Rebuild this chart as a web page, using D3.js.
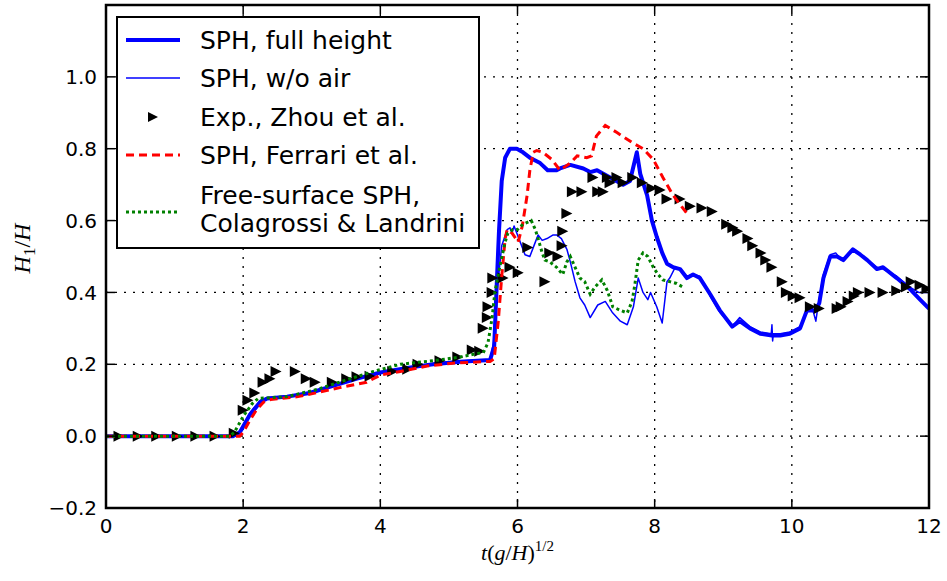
<!DOCTYPE html>
<html>
<head>
<meta charset="utf-8">
<script src="https://cdn.jsdelivr.net/npm/d3@7"></script>
<style>
html,body{margin:0;padding:0;background:#fff;}
svg{display:block;}
</style>
</head>
<body>
<svg id="chart" width="947" height="581"></svg>
<script>
// ---------------- data ----------------
const xTicks = [0, 2, 4, 6, 8, 10, 12];
const yTicks = [-0.2, 0.0, 0.2, 0.4, 0.6, 0.8, 1.0];

const sphFullHeight = [[0,0],[1.85,0],[1.95,0.01],[2.1,0.06],[2.25,0.095],[2.35,0.105],[2.64,0.11],[2.97,0.12],[3.31,0.14],[3.66,0.16],[4.0,0.177],[4.39,0.19],[4.77,0.2],[5.16,0.207],[5.6,0.212],[5.66,0.25],[5.7,0.435],[5.73,0.57],[5.77,0.71],[5.82,0.775],[5.89,0.8],[5.99,0.8],[6.08,0.79],[6.18,0.775],[6.33,0.76],[6.44,0.74],[6.57,0.74],[6.62,0.745],[6.77,0.755],[6.96,0.745],[7.06,0.735],[7.16,0.74],[7.35,0.72],[7.54,0.7],[7.64,0.71],[7.74,0.79],[7.79,0.73],[7.89,0.67],[7.96,0.6],[8.03,0.555],[8.11,0.51],[8.18,0.48],[8.27,0.47],[8.37,0.465],[8.47,0.44],[8.56,0.45],[8.66,0.44],[8.81,0.395],[8.95,0.35],[9.13,0.305],[9.24,0.32],[9.39,0.3],[9.54,0.285],[9.71,0.28],[9.83,0.28],[9.97,0.285],[10.12,0.3],[10.22,0.35],[10.34,0.35],[10.4,0.37],[10.46,0.44],[10.56,0.5],[10.66,0.5],[10.75,0.49],[10.89,0.52],[11.0,0.505],[11.1,0.49],[11.24,0.465],[11.33,0.47],[11.53,0.44],[11.72,0.41],[11.87,0.38],[12.0,0.355]];

const sphNoAir = [[0,0],[1.85,0],[1.95,0.015],[2.1,0.065],[2.25,0.1],[2.35,0.107],[2.64,0.112],[2.97,0.122],[3.31,0.142],[3.66,0.162],[4.0,0.178],[4.39,0.19],[4.77,0.202],[5.16,0.209],[5.6,0.213],[5.65,0.26],[5.7,0.4],[5.77,0.53],[5.85,0.575],[5.89,0.58],[5.92,0.565],[5.95,0.585],[6.04,0.54],[6.11,0.505],[6.18,0.5],[6.26,0.54],[6.3,0.56],[6.36,0.545],[6.43,0.55],[6.52,0.56],[6.57,0.56],[6.64,0.55],[6.72,0.52],[6.77,0.485],[6.84,0.43],[6.91,0.385],[6.98,0.365],[7.06,0.33],[7.17,0.365],[7.28,0.375],[7.38,0.345],[7.5,0.32],[7.6,0.31],[7.69,0.36],[7.76,0.44],[7.83,0.4],[7.9,0.38],[7.94,0.4],[8.03,0.36],[8.11,0.315],[8.18,0.43],[8.22,0.44],[8.3,0.47],[8.37,0.462],[8.47,0.445],[8.56,0.45],[8.66,0.445],[8.81,0.39],[8.95,0.345],[9.13,0.305],[9.24,0.33],[9.39,0.305],[9.54,0.29],[9.7,0.285],[9.71,0.31],[9.72,0.265],[9.73,0.285],[9.83,0.285],[9.97,0.29],[10.12,0.305],[10.22,0.345],[10.3,0.355],[10.35,0.32],[10.38,0.36],[10.46,0.45],[10.56,0.505],[10.64,0.51],[10.72,0.49],[10.89,0.515],[11.0,0.505],[11.1,0.49],[11.24,0.47],[11.33,0.465],[11.53,0.445],[11.72,0.415],[11.85,0.4],[12.0,0.4]];

const expZhou = [[0.19,0],[0.47,0],[0.74,0],[1.04,0],[1.31,0],[1.59,0],[1.87,0.008],[2.0,0.072],[2.07,0.1],[2.17,0.12],[2.29,0.15],[2.39,0.16],[2.48,0.18],[2.76,0.18],[2.92,0.16],[3.05,0.15],[3.3,0.15],[3.51,0.16],[3.66,0.165],[3.85,0.167],[4.18,0.18],[4.4,0.186],[4.55,0.2],[4.87,0.21],[5.13,0.22],[5.34,0.24],[5.45,0.236],[5.5,0.3],[5.56,0.33],[5.57,0.36],[5.63,0.4],[5.64,0.44],[5.79,0.44],[5.89,0.47],[6.01,0.455],[6.15,0.525],[6.4,0.43],[6.47,0.51],[6.59,0.5],[6.65,0.53],[6.66,0.57],[6.72,0.62],[6.8,0.68],[6.94,0.68],[7.1,0.72],[7.17,0.68],[7.25,0.68],[7.31,0.72],[7.35,0.705],[7.45,0.72],[7.54,0.705],[7.68,0.72],[7.82,0.705],[7.96,0.69],[8.08,0.685],[8.18,0.66],[8.37,0.66],[8.52,0.64],[8.69,0.635],[8.84,0.625],[9.05,0.59],[9.14,0.58],[9.21,0.57],[9.36,0.55],[9.43,0.53],[9.55,0.51],[9.62,0.49],[9.71,0.47],[9.86,0.43],[9.92,0.4],[10.02,0.39],[10.12,0.385],[10.27,0.36],[10.4,0.355],[10.66,0.355],[10.72,0.36],[10.82,0.375],[10.91,0.39],[10.97,0.4],[11.14,0.4],[11.33,0.4],[11.53,0.405],[11.67,0.415],[11.74,0.43],[11.87,0.42],[11.97,0.41]];

const sphFerrari = [[0,0],[1.95,0],[2.0,0.01],[2.1,0.045],[2.2,0.075],[2.3,0.095],[2.4,0.102],[2.8,0.11],[3.1,0.122],[3.41,0.135],[3.8,0.15],[4.0,0.17],[4.29,0.18],[4.68,0.195],[5.06,0.203],[5.6,0.208],[5.66,0.215],[5.72,0.32],[5.77,0.445],[5.82,0.55],[5.85,0.575],[5.92,0.565],[6.01,0.54],[6.07,0.585],[6.14,0.67],[6.18,0.74],[6.23,0.79],[6.28,0.795],[6.37,0.79],[6.5,0.77],[6.62,0.74],[6.77,0.76],[6.87,0.78],[7.01,0.775],[7.08,0.78],[7.15,0.835],[7.28,0.865],[7.45,0.845],[7.69,0.815],[7.83,0.8],[7.98,0.77],[8.12,0.72],[8.27,0.67],[8.37,0.645],[8.47,0.62]];

const colagrossiLandrini = [[0,0],[1.8,0],[1.87,0.01],[2.0,0.055],[2.13,0.09],[2.22,0.105],[2.64,0.11],[3.08,0.13],[3.56,0.16],[3.9,0.18],[4.29,0.2],[4.77,0.21],[5.16,0.22],[5.41,0.23],[5.5,0.232],[5.57,0.26],[5.63,0.33],[5.67,0.4],[5.74,0.47],[5.82,0.54],[5.86,0.565],[5.93,0.575],[6.0,0.575],[6.08,0.59],[6.2,0.6],[6.26,0.575],[6.3,0.55],[6.36,0.51],[6.4,0.49],[6.47,0.485],[6.57,0.47],[6.66,0.45],[6.72,0.485],[6.77,0.5],[6.84,0.47],[6.91,0.44],[6.98,0.43],[7.06,0.395],[7.13,0.415],[7.23,0.435],[7.31,0.405],[7.39,0.36],[7.5,0.35],[7.6,0.343],[7.67,0.375],[7.71,0.42],[7.76,0.49],[7.83,0.51],[7.9,0.5],[7.98,0.47],[8.05,0.45],[8.12,0.435],[8.22,0.43],[8.32,0.425],[8.41,0.415]];

const legendLabels = ["SPH, full height", "SPH, w/o air", "Exp., Zhou et al.", "SPH, Ferrari et al.", ["Free-surface SPH,", "Colagrossi & Landrini"]];

// ---------------- layout ----------------
const plot = {left: 106, right: 929, top: 5, bottom: 508};
const svg = d3.select("#chart");

const x = d3.scaleLinear().domain([0, 12]).range([plot.left, plot.right]);
const y = d3.scaleLinear().domain([-0.2, 1.2]).range([plot.bottom, plot.top]);

svg.append("defs").append("clipPath").attr("id", "clip")
  .append("rect").attr("x", plot.left).attr("y", plot.top)
  .attr("width", plot.right - plot.left).attr("height", plot.bottom - plot.top);

// grid
const grid = svg.append("g");
grid.selectAll("line.gx").data(xTicks.slice(1, -1)).join("line")
  .attr("x1", d => x(d)).attr("x2", d => x(d))
  .attr("y1", plot.top).attr("y2", plot.bottom)
  .attr("stroke", "#000").attr("stroke-width", 1.3).attr("stroke-dasharray", "2,7");
grid.selectAll("line.gy").data(yTicks.slice(1)).join("line")
  .attr("y1", d => y(d)).attr("y2", d => y(d))
  .attr("x1", plot.left).attr("x2", plot.right)
  .attr("stroke", "#000").attr("stroke-width", 1.3).attr("stroke-dasharray", "2,7");

// series
const line = d3.line().x(d => x(d[0])).y(d => y(d[1]));
const series = svg.append("g").attr("clip-path", "url(#clip)");

series.append("path").datum(sphFullHeight).attr("d", line)
  .attr("fill", "none").attr("stroke", "#0000ff").attr("stroke-width", 4).attr("stroke-linejoin", "round");
series.append("path").datum(sphNoAir).attr("d", line)
  .attr("fill", "none").attr("stroke", "#0000ff").attr("stroke-width", 1.5).attr("stroke-linejoin", "round");

const tri = (cx, cy, s) => `M${cx + s},${cy} L${cx - s},${cy - s} L${cx - s},${cy + s} Z`;
series.selectAll("path.exp").data(expZhou).join("path")
  .attr("d", d => tri(x(d[0]), y(d[1]), 5.5)).attr("fill", "#000");

series.append("path").datum(sphFerrari).attr("d", line)
  .attr("fill", "none").attr("stroke", "#ff0000").attr("stroke-width", 3).attr("stroke-dasharray", "8,5");
series.append("path").datum(colagrossiLandrini).attr("d", line)
  .attr("fill", "none").attr("stroke", "#008000").attr("stroke-width", 3).attr("stroke-dasharray", "3,3");

// frame
svg.append("rect").attr("x", plot.left).attr("y", plot.top)
  .attr("width", plot.right - plot.left).attr("height", plot.bottom - plot.top)
  .attr("fill", "none").attr("stroke", "#000").attr("stroke-width", 2.5);

// ticks (inward, all four sides)
const tickLen = 9;
const ticks = svg.append("g").attr("stroke", "#000").attr("stroke-width", 1.5);
xTicks.forEach(t => {
  ticks.append("line").attr("x1", x(t)).attr("x2", x(t)).attr("y1", plot.bottom).attr("y2", plot.bottom - tickLen);
  ticks.append("line").attr("x1", x(t)).attr("x2", x(t)).attr("y1", plot.top).attr("y2", plot.top + tickLen);
});
yTicks.forEach(t => {
  ticks.append("line").attr("y1", y(t)).attr("y2", y(t)).attr("x1", plot.left).attr("x2", plot.left + tickLen);
  ticks.append("line").attr("y1", y(t)).attr("y2", y(t)).attr("x1", plot.right).attr("x2", plot.right - tickLen);
});

// tick labels
const fmtY = d => (d < 0 ? "\u2212" : "") + Math.abs(d).toFixed(1);
svg.append("g").selectAll("text").data(xTicks).join("text")
  .attr("x", d => x(d)).attr("y", plot.bottom + 25)
  .attr("text-anchor", "middle").attr("font-family", "DejaVu Sans").attr("font-size", 20)
  .text(d => d);
svg.append("g").selectAll("text").data(yTicks).join("text")
  .attr("x", plot.left - 9).attr("y", d => y(d)).attr("dy", "0.36em")
  .attr("text-anchor", "end").attr("font-family", "DejaVu Sans").attr("font-size", 20)
  .text(fmtY);

// axis labels
const xl = svg.append("text").attr("x", (plot.left + plot.right) / 2).attr("y", 560)
  .attr("text-anchor", "middle").attr("font-family", "Liberation Serif, DejaVu Serif").attr("font-size", 22);
xl.append("tspan").attr("font-style", "italic").text("t");
xl.append("tspan").text("(");
xl.append("tspan").attr("font-style", "italic").text("g");
xl.append("tspan").text("/");
xl.append("tspan").attr("font-style", "italic").text("H");
xl.append("tspan").text(")");
xl.append("tspan").attr("font-size", 15).attr("dy", -9).text("1/2");

const yl = svg.append("text").attr("transform", `translate(30,${(plot.top + plot.bottom) / 2 - 8}) rotate(-90)`)
  .attr("text-anchor", "middle").attr("font-family", "Liberation Serif, DejaVu Serif").attr("font-size", 24);
yl.append("tspan").attr("font-style", "italic").text("H");
yl.append("tspan").attr("font-size", 17).attr("dy", 5).text("1");
yl.append("tspan").attr("dy", -5).text("/");
yl.append("tspan").attr("font-style", "italic").text("H");

// legend
const lg = svg.append("g");
lg.append("rect").attr("x", 117).attr("y", 17).attr("width", 362).attr("height", 231)
  .attr("fill", "#fff").attr("stroke", "#000").attr("stroke-width", 2);
const rowY = [40, 78, 117, 155, 209];
const sx1 = 126, sx2 = 180, tx = 200;
lg.append("line").attr("x1", sx1).attr("x2", sx2).attr("y1", rowY[0]).attr("y2", rowY[0])
  .attr("stroke", "#0000ff").attr("stroke-width", 4);
lg.append("line").attr("x1", sx1).attr("x2", sx2).attr("y1", rowY[1]).attr("y2", rowY[1])
  .attr("stroke", "#0000ff").attr("stroke-width", 1.5);
lg.append("path").attr("d", tri(153, rowY[2], 5)).attr("fill", "#000");
lg.append("line").attr("x1", sx1).attr("x2", sx2).attr("y1", rowY[3]).attr("y2", rowY[3])
  .attr("stroke", "#ff0000").attr("stroke-width", 3).attr("stroke-dasharray", "8,5");
lg.append("line").attr("x1", sx1).attr("x2", sx2).attr("y1", rowY[4] + 3).attr("y2", rowY[4] + 3)
  .attr("stroke", "#008000").attr("stroke-width", 3).attr("stroke-dasharray", "3,3");
legendLabels.forEach((lab, i) => {
  if (Array.isArray(lab)) {
    lab.forEach((l, j) => {
      lg.append("text").attr("x", tx).attr("y", rowY[i] - 14 + j * 28).attr("dy", "0.36em")
        .attr("font-family", "DejaVu Sans").attr("font-size", 25).text(l);
    });
  } else {
    lg.append("text").attr("x", tx).attr("y", rowY[i]).attr("dy", "0.36em")
      .attr("font-family", "DejaVu Sans").attr("font-size", 25).text(lab);
  }
});
</script>
</body>
</html>
